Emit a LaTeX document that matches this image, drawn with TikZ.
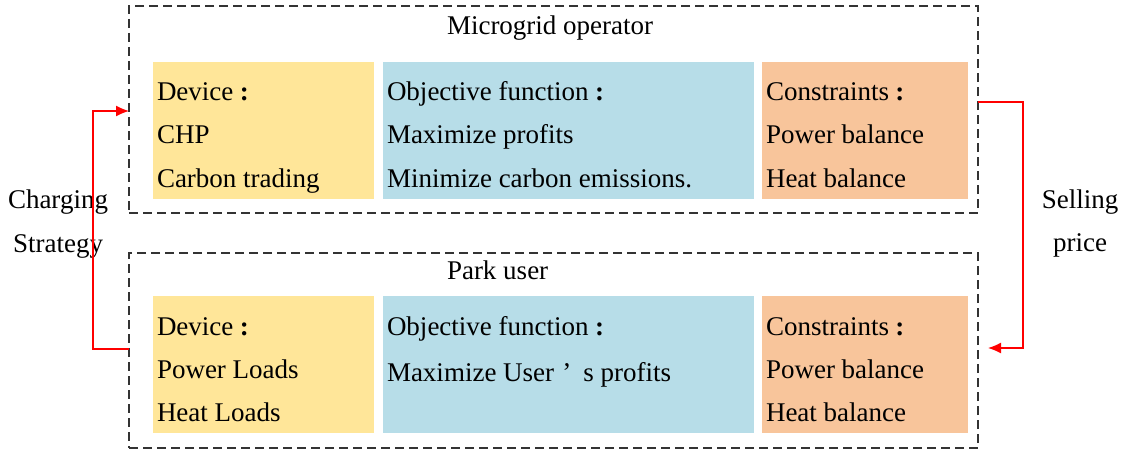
\documentclass[tikz,border=0pt]{standalone}
\usepackage{fontspec}
\setmainfont{Liberation Serif}
\usetikzlibrary{arrows.meta}
\definecolor{devfill}{HTML}{FFE699}
\definecolor{objfill}{HTML}{B7DDE8}
\definecolor{confill}{HTML}{F8C59B}
\definecolor{flowred}{HTML}{FF0000}
% wide colon after a heading word
\newcommand{\fcolon}{\hspace{0.24em}\textbf{:}\hspace{0.5em}}
\begin{document}
\begin{tikzpicture}[x=1pt,y=-1pt,
  every node/.style={inner sep=0pt,outer sep=0pt},
  group/.style={draw=black!80,line width=1.3pt,dash pattern=on 9pt off 5pt,anchor=north west},
  cell/.style={anchor=north west,minimum height=137pt},
  txt/.style={anchor=base west,font=\fontsize{27}{32}\selectfont},
  ctxt/.style={anchor=base,font=\fontsize{27}{32}\selectfont},
  flow/.style={draw=flowred,line width=1.3pt,-{Latex[length=13pt,width=11pt]}}]
\useasboundingbox (0,0) rectangle (1129,452);

% operator and user groups
\node[group,minimum width=849pt,minimum height=207pt] (op) at (129,6) {};
\node[group,minimum width=849pt,minimum height=195pt] (user) at (129,253) {};

% operator cells
\node[cell,fill=devfill,minimum width=221pt] (opdev) at (153,62) {};
\node[cell,fill=objfill,minimum width=371pt] (opobj) at (383,62) {};
\node[cell,fill=confill,minimum width=206pt] (opcon) at (762,62) {};

% user cells
\node[cell,fill=devfill,minimum width=221pt] (usdev) at (153,296) {};
\node[cell,fill=objfill,minimum width=371pt] (usobj) at (383,296) {};
\node[cell,fill=confill,minimum width=206pt] (uscon) at (762,296) {};

% titles
\node[txt] (optitle) at (447,35) {Microgrid operator};
\node[txt] (ustitle) at (447,279) {Park user};

% operator texts
\node[txt] (t1) at (157,100) {Device\fcolon};
\node[txt] (t2) at (157,143) {CHP};
\node[txt] (t3) at (157,187) {Carbon trading};
\node[txt] (t4) at (387,100) {Objective function\fcolon};
\node[txt] (t5) at (387,143) {Maximize profits};
\node[txt] (t6) at (387,187) {Minimize carbon emissions.};
\node[txt] (t7) at (766,100) {Constraints\fcolon};
\node[txt] (t8) at (766,143) {Power balance};
\node[txt] (t9) at (766,187) {Heat balance};

% user texts
\node[txt] (u1) at (157,335) {Device\fcolon};
\node[txt] (u2) at (157,378) {Power Loads};
\node[txt] (u3) at (157,421) {Heat Loads};
\node[txt] (u4) at (387,335) {Objective function\fcolon};
\node[txt] (u5) at (387,381) {Maximize User\hspace{0.3em}’\hspace{0.45em}s profits};
\node[txt] (u7) at (766,335) {Constraints\fcolon};
\node[txt] (u8) at (766,378) {Power balance};
\node[txt] (u9) at (766,421) {Heat balance};

% side labels
\node[ctxt] (l1) at (58,208) {Charging};
\node[ctxt] (l2) at (58,252) {Strategy};
\node[ctxt] (r1) at (1080,208) {Selling};
\node[ctxt] (r2) at (1080,251) {price};

% interaction arrows
\draw[flow] (user.west |- 0,349) -- ++(-36,0) |- (op.west |- 0,111);
\draw[flow] (op.east |- 0,102) -- ++(45,0) |- (988,348);
\end{tikzpicture}
\end{document}
